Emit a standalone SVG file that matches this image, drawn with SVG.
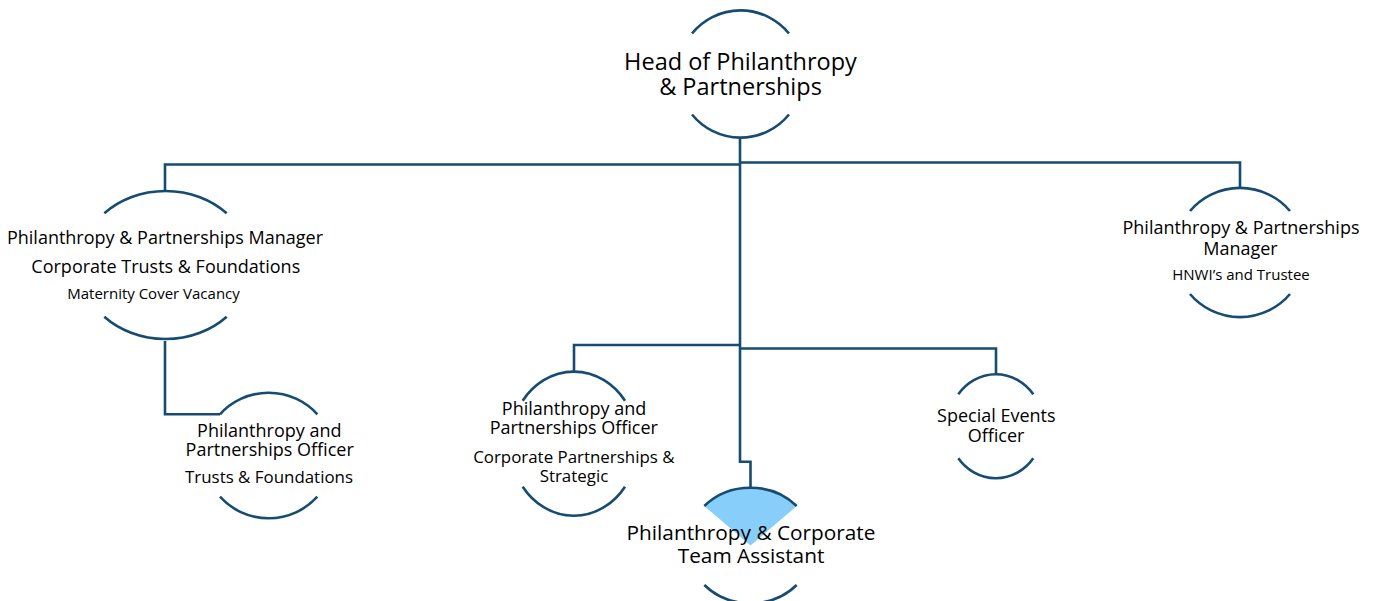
<svg xmlns="http://www.w3.org/2000/svg" width="1373" height="601" viewBox="0 0 1373 601">
<style>
.arc{fill:none;stroke:#164b72;stroke-width:2.6}
.con{fill:none;stroke:#164b72;stroke-width:2.6}
text{font-family:"Open Sans","DejaVu Sans",sans-serif;fill:#000;text-anchor:middle}
.t1{font-size:23.5px}
.t2{font-size:18px}
.t3{font-size:15px}
.t4{font-size:16.9px}
.t5{font-size:20.8px}
</style>
<rect width="1373" height="601" fill="#fff"/>
<g id="connectors">
<path class="con" d="M740,137 V461.7 H750.5 V488"/>
<path class="con" d="M165,191 V164.5 H740"/>
<path class="con" d="M740,162.5 H1240 V188"/>
<path class="con" d="M574,371.7 V345 H740"/>
<path class="con" d="M740,348.5 H996 V374.3"/>
<path class="con" d="M165,341 V414.3 H220"/>
</g>
<g id="head">
<path class="arc" d="M692,33.5 A62.5 62.5 0 0 1 789,33.5"/>
<path class="arc" d="M692,114.5 A62.5 62.5 0 0 0 789,114.5"/>
<text class="t1"><tspan x="740.5" y="70">Head of Philanthropy</tspan><tspan x="740.5" y="95">&amp; Partnerships</tspan></text>
</g>
<g id="manager-ctf">
<path class="arc" d="M104.3,213.3 A86 75 0 0 1 226.7,213.3"/>
<path class="arc" d="M104.3,316.7 A86 75 0 0 0 226.7,316.7"/>
<text class="t2"><tspan x="165" y="244.3">Philanthropy &amp; Partnerships Manager</tspan><tspan x="165.8" y="272.7">Corporate Trusts &amp; Foundations</tspan><tspan class="t3" x="153.5" y="299">Maternity Cover Vacancy</tspan></text>
</g>
<g id="manager-hnwi">
<path class="arc" d="M1190,211 A65 64 0 0 1 1290,211"/>
<path class="arc" d="M1190,294 A65 64 0 0 0 1290,294"/>
<text class="t2"><tspan x="1241" y="234.3">Philanthropy &amp; Partnerships</tspan><tspan x="1240.5" y="255">Manager</tspan><tspan class="t3" x="1241" y="280">HNWI’s and Trustee</tspan></text>
</g>
<g id="officer-tf">
<path class="arc" d="M220,414.3 A64.7 63.3 0 0 1 317.3,414.3"/>
<path class="arc" d="M220,496.7 A64.7 63.3 0 0 0 317.3,496.7"/>
<text class="t2"><tspan x="269.3" y="436.7">Philanthropy and</tspan><tspan x="269.7" y="456">Partnerships Officer</tspan><tspan class="t4" x="269" y="483.3">Trusts &amp; Foundations</tspan></text>
</g>
<g id="officer-cps">
<path class="arc" d="M522.7,400.7 A63.6 71.7 0 0 1 625,400.7"/>
<path class="arc" d="M522.7,486.7 A63.6 71.7 0 0 0 625,486.7"/>
<text class="t2"><tspan x="574" y="415">Philanthropy and</tspan><tspan x="573.8" y="434.3">Partnerships Officer</tspan><tspan class="t4" x="573.8" y="462.7">Corporate Partnerships &amp;</tspan><tspan class="t4" x="574" y="481.7">Strategic</tspan></text>
</g>
<g id="special-events">
<path class="arc" d="M958.3,394.3 A47.3 51.2 0 0 1 1033.3,394.3"/>
<path class="arc" d="M958.3,458.3 A47.3 51.2 0 0 0 1033.3,458.3"/>
<text class="t2"><tspan x="996.3" y="421.7">Special Events</tspan><tspan x="996" y="441.7">Officer</tspan></text>
</g>
<g id="team-assistant">
<path d="M750.5,545.5 L704.3,506 A63.3 57.8 0 0 1 796.7,506 Z" fill="#87cefa"/>
<path class="arc" d="M704.3,506 A63.3 57.8 0 0 1 796.7,506"/>
<path class="arc" d="M704.3,585 A63.3 57.8 0 0 0 796.7,585"/>
<text class="t5"><tspan x="751" y="540">Philanthropy &amp; Corporate</tspan><tspan x="751" y="562.7">Team Assistant</tspan></text>
</g>
</svg>
